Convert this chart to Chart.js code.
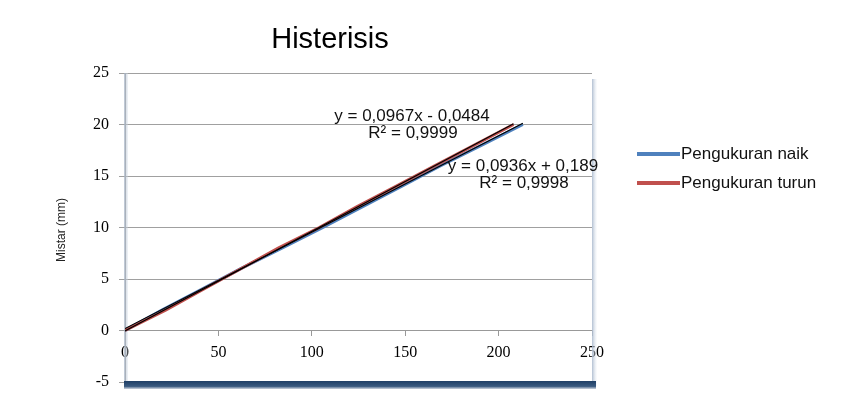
<!DOCTYPE html>
<html>
<head>
<meta charset="utf-8">
<script src="https://cdn.jsdelivr.net/npm/chart.js@4/dist/chart.umd.min.js"></script>
<style>
  html, body { margin: 0; padding: 0; background: #fff; }
  #wrap { width: 857px; height: 418px; position: relative; }
</style>
</head>
<body>
<div id="wrap"><canvas id="c" width="857" height="418"></canvas></div>
<script>
// ---- data ----
const titleText = "Histerisis";
const yAxisTitle = "Mistar (mm)";
const seriesNames = ["Pengukuran naik", "Pengukuran turun"];
const mistarValues = [0, 2, 4, 6, 8, 10, 12, 14, 16, 18, 20];          // mm (y)
const naikX  = [0, 20, 41, 62, 84, 106, 127, 148, 169, 191, 213];      // up measurement (x)
const turunX = [0, 22, 42, 62, 82, 104, 124, 145, 166, 187, 208];      // down measurement (x)
const trendSlope = [0.0936, 0.0967];
const trendIntercept = [0.189, -0.0484];
const trendLabels = [["y = 0,0936x + 0,189", "R² = 0,9998"], ["y = 0,0967x - 0,0484", "R² = 0,9999"]];
const xTicks = [0, 50, 100, 150, 200, 250];
const yTicks = [-5, 0, 5, 10, 15, 20, 25];

const toPts = (xs, ys) => xs.map((x, i) => ({ x: x, y: ys[i] }));
const trendPts = (k) => {
  const xs = k === 0 ? naikX : turunX;
  const x0 = xs[0], x1 = xs[xs.length - 1];
  return [{ x: x0, y: trendSlope[k] * x0 + trendIntercept[k] }, { x: x1, y: trendSlope[k] * x1 + trendIntercept[k] }];
};

const COLORS = ["#4F81BD", "#C0504D"];

const decor = {
  id: "decor",
  beforeDatasetsDraw(chart) {
    const { ctx, chartArea: a } = chart;
    ctx.save();
    // left axis shadow stripe
    let g = ctx.createLinearGradient(a.left - 2, 0, a.left + 4, 0);
    g.addColorStop(0, "rgba(150,165,185,0.9)");
    g.addColorStop(1, "rgba(220,228,238,0.2)");
    ctx.fillStyle = g;
    ctx.fillRect(a.left - 1, a.top, 4, a.bottom - a.top);
    // right shadow stripe
    g = ctx.createLinearGradient(a.right, 0, a.right + 5, 0);
    g.addColorStop(0, "rgba(170,185,205,0.9)");
    g.addColorStop(1, "rgba(220,228,238,0.1)");
    ctx.fillStyle = g;
    ctx.fillRect(a.right, a.top + 6, 5, a.bottom - a.top - 2);
    // bottom dark bar
    g = ctx.createLinearGradient(0, a.bottom - 1, 0, a.bottom + 8);
    g.addColorStop(0, "#1f3f66");
    g.addColorStop(0.6, "#3a5a80");
    g.addColorStop(1, "rgba(120,140,170,0.1)");
    ctx.fillStyle = g;
    ctx.fillRect(a.left - 1, a.bottom - 1, a.right - a.left + 5, 8);
    ctx.restore();
  },
  afterDraw(chart) {
    const { ctx, chartArea: a } = chart;
    ctx.save();
    // title
    ctx.fillStyle = "#000";
    ctx.font = "500 29px 'Liberation Sans', Arial, sans-serif";
    ctx.textAlign = "center";
    ctx.textBaseline = "middle";
    ctx.fillText(titleText, 330, 40);
    // y axis title
    ctx.save();
    ctx.translate(62, 230);
    ctx.rotate(-Math.PI / 2);
    ctx.font = "12px 'Liberation Sans', Arial, sans-serif";
    ctx.fillStyle = "#222";
    ctx.fillText(yAxisTitle, 0, 0);
    ctx.restore();
    // trendline labels
    ctx.font = "17px 'Liberation Sans', Arial, sans-serif";
    ctx.fillStyle = "#111";
    ctx.fillText(trendLabels[1][0], 412, 116);
    ctx.fillText(trendLabels[1][1], 413, 133);
    ctx.fillText(trendLabels[0][0], 523, 166);
    ctx.fillText(trendLabels[0][1], 524, 183);
    // legend
    const ly = [154, 183];
    ctx.textAlign = "left";
    ctx.font = "17px 'Liberation Sans', Arial, sans-serif";
    for (let i = 0; i < 2; i++) {
      ctx.strokeStyle = COLORS[i];
      ctx.lineWidth = 4;
      ctx.beginPath();
      ctx.moveTo(637, ly[i]);
      ctx.lineTo(680, ly[i]);
      ctx.stroke();
      ctx.fillStyle = "#111";
      ctx.fillText(seriesNames[i], 681, ly[i]);
    }
    ctx.restore();
  }
};

new Chart(document.getElementById("c"), {
  type: "scatter",
  data: {
    datasets: [
      { label: seriesNames[0], data: toPts(naikX, mistarValues), showLine: true, borderColor: COLORS[0], borderWidth: 3, pointRadius: 0, order: 3 },
      { label: seriesNames[1], data: toPts(turunX, mistarValues), showLine: true, borderColor: COLORS[1], borderWidth: 3, pointRadius: 0, order: 2 },
      { label: "trend naik", data: trendPts(0), showLine: true, borderColor: "#000", borderWidth: 1.2, pointRadius: 0, order: 1 },
      { label: "trend turun", data: trendPts(1), showLine: true, borderColor: "#000", borderWidth: 1.2, pointRadius: 0, order: 0 }
    ]
  },
  options: {
    responsive: false,
    animation: false,
    events: [],
    layout: { padding: { left: 0, top: 73, right: 265, bottom: 36 } },
    plugins: { legend: { display: false }, title: { display: false }, tooltip: { enabled: false } },
    scales: {
      x: {
        type: "linear",
        position: { y: 0 },
        min: 0, max: 250,
        afterBuildTicks: (s) => { s.ticks = xTicks.map(v => ({ value: v })); },
        grid: { drawOnChartArea: false, drawTicks: true, tickLength: 5, color: "#999" },
        border: { color: "#999", width: 1 },
        ticks: { color: "#000", padding: 8, font: { family: "'Liberation Serif', 'Times New Roman', serif", size: 16 } }
      },
      y: {
        type: "linear",
        min: -5, max: 25,
        afterBuildTicks: (s) => { s.ticks = yTicks.map(v => ({ value: v })); },
        afterFit: (s) => { s.width = 125; },
        grid: { color: "#a0a0a0", lineWidth: 1, tickLength: 6 },
        border: { color: "#999", width: 1 },
        ticks: { color: "#000", padding: 10, font: { family: "'Liberation Serif', 'Times New Roman', serif", size: 16 } }
      }
    }
  },
  plugins: [decor]
});
</script>
</body>
</html>
